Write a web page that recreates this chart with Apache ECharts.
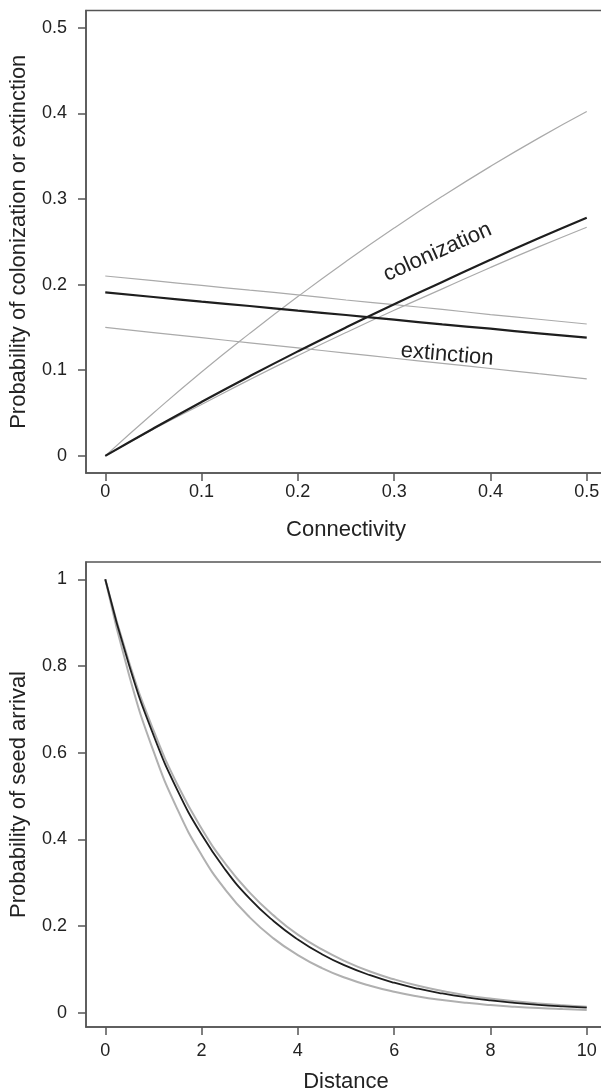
<!DOCTYPE html>
<html lang="en">
<head>
    <meta charset="UTF-8">
    <title>colonization / seed arrival</title>
    <script src="https://cdn.jsdelivr.net/npm/echarts@6/dist/echarts.min.js"></script>
    <style>
        *{margin:0;padding:0;}
        html,body{background:#fff;overflow:hidden;width:601px;height:1091px;}
        /* a bit wider than the window: the right side of both boxes is cut off, as in the figure */
        #main{width:620px;height:1091px;}
    </style>
</head>
<body>
<div id="main"></div>
<script type="text/javascript">
    // top panel: connectivity
    const conn = [0, 0.05, 0.1, 0.15, 0.2, 0.25, 0.3, 0.35, 0.4, 0.45, 0.5];
    const colMean  = [0, 0.032, 0.063, 0.093, 0.122, 0.150, 0.177, 0.203, 0.229, 0.254, 0.278];
    const colUpper = [0, 0.050, 0.098, 0.143, 0.186, 0.227, 0.266, 0.303, 0.338, 0.371, 0.402];
    const colLower = [0, 0.031, 0.060, 0.089, 0.117, 0.144, 0.170, 0.195, 0.220, 0.244, 0.267];
    const extMean  = [0.191, 0.1855, 0.180, 0.175, 0.1695, 0.1645, 0.159, 0.1535, 0.1485, 0.143, 0.138];
    const extUpper = [0.210, 0.2045, 0.199, 0.1935, 0.188, 0.182, 0.1765, 0.171, 0.165, 0.1595, 0.154];
    const extLower = [0.150, 0.144, 0.138, 0.132, 0.126, 0.120, 0.114, 0.108, 0.102, 0.096, 0.090];
    const connTicks = [0, 0.1, 0.2, 0.3, 0.4, 0.5];
    const probTicks = [0, 0.1, 0.2, 0.3, 0.4, 0.5];

    // bottom panel: distance
    const dist = [0, 0.5, 1, 1.5, 2, 2.5, 3, 3.5, 4, 4.5, 5, 5.5, 6, 6.5, 7, 7.5, 8, 8.5, 9, 9.5, 10];
    const seedMean  = [1, 0.800, 0.641, 0.513, 0.411, 0.329, 0.263, 0.211, 0.169, 0.135, 0.108, 0.0865, 0.0692, 0.0554, 0.0444, 0.0355, 0.0284, 0.0228, 0.0182, 0.0146, 0.0117];
    const seedUpper = [1, 0.807, 0.652, 0.526, 0.425, 0.343, 0.277, 0.224, 0.180, 0.146, 0.118, 0.095, 0.077, 0.062, 0.050, 0.040, 0.0326, 0.0263, 0.0212, 0.0171, 0.0138];
    const seedLower = [1, 0.777, 0.604, 0.469, 0.364, 0.283, 0.220, 0.171, 0.133, 0.103, 0.080, 0.0622, 0.0483, 0.0375, 0.0292, 0.0227, 0.0176, 0.0137, 0.0106, 0.0083, 0.0064];
    const distTicks = [0, 2, 4, 6, 8, 10];
    const seedTicks = [0, 0.2, 0.4, 0.6, 0.8, 1];

    const FONT = '"Liberation Sans", Arial, sans-serif';
    const TXT = '#222';
    const BOX = '#555';
    const GREY = '#aaaaaa';
    const DARK = '#1e1e1e';

    const pairs = (xs, ys) => xs.map((x, i) => [x, ys[i]]);

    function xAx(idx, min, max, ticks, name, gap, margin) {
        return {
            gridIndex: idx, type: 'value', min, max,
            name, nameLocation: 'middle', nameGap: gap,
            nameTextStyle: {fontFamily: FONT, fontSize: 22, color: TXT},
            axisLine: {show: true, onZero: false, lineStyle: {color: BOX, width: 1.5}},
            axisTick: {show: true, length: 8, lineStyle: {color: BOX, width: 1.5}, customValues: ticks},
            axisLabel: {fontFamily: FONT, fontSize: 18, color: TXT, margin, customValues: ticks},
            splitLine: {show: false}
        };
    }
    function yAx(idx, min, max, ticks, name) {
        return {
            gridIndex: idx, type: 'value', min, max,
            name, nameLocation: 'middle', nameGap: 56,
            nameTextStyle: {fontFamily: FONT, fontSize: 22, color: TXT},
            axisLine: {show: true, onZero: false, lineStyle: {color: BOX, width: 1.5}},
            axisTick: {show: true, length: 8, lineStyle: {color: BOX, width: 1.5}, customValues: ticks},
            axisLabel: {fontFamily: FONT, fontSize: 18, color: TXT, margin: 19, customValues: ticks},
            splitLine: {show: false}
        };
    }
    function line(idx, xs, ys, color, width) {
        return {
            type: 'line', xAxisIndex: idx, yAxisIndex: idx,
            data: pairs(xs, ys), smooth: true, showSymbol: false, silent: true,
            lineStyle: {color, width}, z: color === DARK ? 3 : 2
        };
    }

    let chart = echarts.init(document.getElementById('main'));
    let option = {
        animation: false,
        backgroundColor: '#fff',
        grid: [
            {left: 86, top: 10.5, width: 520, height: 462.5, show: true, borderColor: BOX, borderWidth: 1.5, outerBoundsMode: 'none'},
            {left: 86, top: 562, width: 520, height: 465, show: true, borderColor: BOX, borderWidth: 1.5, outerBoundsMode: 'none'}
        ],
        xAxis: [
            xAx(0, -0.02, 0.52, connTicks, 'Connectivity', 46, 10),
            xAx(1, -0.4, 10.4, distTicks, 'Distance', 44, 15)
        ],
        yAxis: [
            yAx(0, -0.02, 0.52, probTicks, 'Probability of colonization or extinction'),
            yAx(1, -0.033, 1.04, seedTicks, 'Probability of seed arrival')
        ],
        series: [
            line(0, conn, colUpper, GREY, 1.2),
            line(0, conn, colLower, GREY, 1.2),
            line(0, conn, extUpper, GREY, 1.2),
            line(0, conn, extLower, GREY, 1.2),
            line(0, conn, colMean, DARK, 2.2),
            line(0, conn, extMean, DARK, 2.2),
            line(1, dist, seedUpper, '#b0b0b0', 2),
            line(1, dist, seedLower, '#b0b0b0', 2),
            line(1, dist, seedMean, DARK, 1.8)
        ]
    };
    chart.setOption(option);

    // curve labels, placed at data coordinates
    const pc = chart.convertToPixel({gridIndex: 0}, [0.345, 0.238]);
    const pe = chart.convertToPixel({gridIndex: 0}, [0.355, 0.118]);
    chart.setOption({
        graphic: [
            {type: 'text', x: pc[0], y: pc[1], rotation: 24 * Math.PI / 180,
                style: {text: 'colonization', font: '22px ' + FONT, fill: TXT, align: 'center', verticalAlign: 'middle'}},
            {type: 'text', x: pe[0], y: pe[1], rotation: -5 * Math.PI / 180,
                style: {text: 'extinction', font: '22px ' + FONT, fill: TXT, align: 'center', verticalAlign: 'middle'}}
        ]
    });
</script>
</body>
</html>
